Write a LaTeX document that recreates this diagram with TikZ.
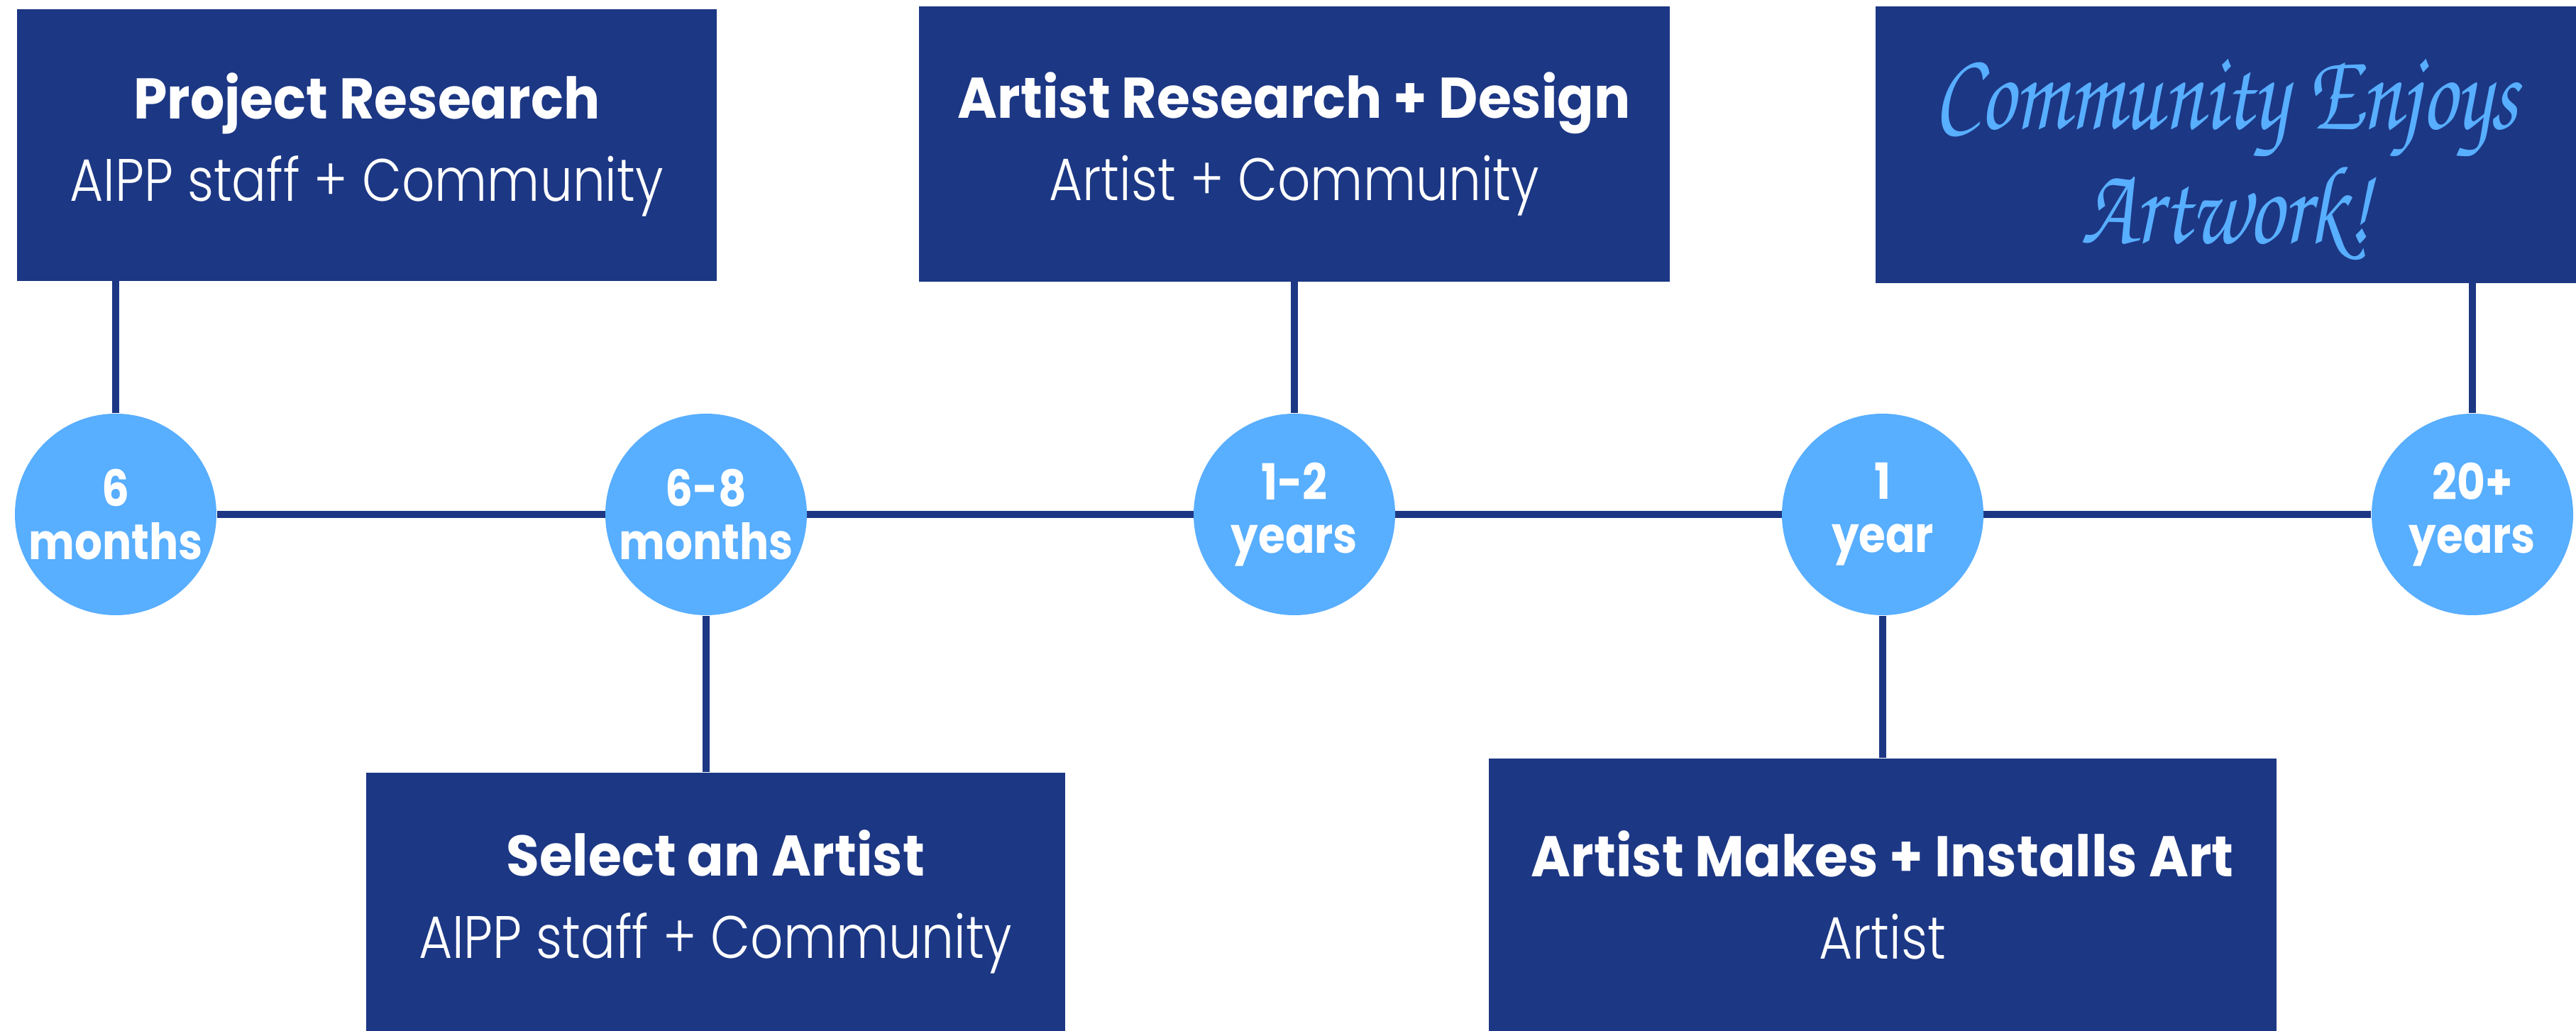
\documentclass[tikz,border=0pt]{standalone}
\usepackage{fontspec}
\setmainfont{Poppins}[
  UprightFont = * Light,
  BoldFont = * Bold,
  FakeStretch = 0.86
]
\newfontfamily\headfont{Poppins Bold}[FakeStretch = 0.94]
\newfontfamily\spanfont{Poppins Bold}[FakeStretch = 0.87]
\newfontfamily\brushfont{texgyrechorus-mediumitalic.otf}[FakeStretch = 0.78]
\usetikzlibrary{positioning}
\usetikzlibrary{backgrounds}
\definecolor{navy}{HTML}{1C3784}
\definecolor{sky}{HTML}{58AEFF}
\tikzset {
  % path style for the time axis
  axis/.style = {
    draw = navy,
    line width = 0.1cm
  },
  % path style from a stage to its circle
  link/.style = {
    axis
  }
}
\tikzset {
  % stage of the project
  stage/.style = {
    fill = navy,
    text = white,
    align = center,
    inner sep = 0,
    anchor = north west,
    font = \fontsize{24pt}{33pt}\selectfont
  },
  % duration of a stage
  span/.style = {
    circle,
    fill = sky,
    text = white,
    align = center,
    inner sep = 0,
    minimum size = 2.84cm,
    font = \spanfont\fontsize{20pt}{21.3pt}\selectfont
  }
}

\begin{document}
\begin{tikzpicture}
    \useasboundingbox (0, 0) rectangle (36.3, -14.53);

    \node[span] (six) at (1.63, -7.25) {6\\months};
    \node[span] (six-eight) at (9.95, -7.25) {6-8\\months};
    \node[span] (one-two) at (18.24, -7.25) {1-2\\years};
    \node[span] (one) at (26.53, -7.25) {1\\year};
    \node[span] (twenty) at (34.84, -7.25) {20+\\years};

    \node[stage, minimum width = 9.86cm, minimum height = 3.83cm]
      (research) at (0.23, -0.12)
      {{\headfont\fontsize{23pt}{33pt}\selectfont Project Research}\\AIPP staff + Community};

    \node[stage, minimum width = 9.85cm, minimum height = 3.65cm]
      (select) at (5.15, -10.88)
      {{\headfont\fontsize{23pt}{33pt}\selectfont Select an Artist}\\AIPP staff + Community};

    \node[stage, minimum width = 10.58cm, minimum height = 3.88cm]
      (design) at (12.94, -0.08)
      {{\headfont\fontsize{23pt}{33pt}\selectfont Artist Research + Design}\\Artist + Community};

    \node[stage, minimum width = 11.1cm, minimum height = 3.85cm]
      (install) at (20.97, -10.68)
      {{\headfont\fontsize{23pt}{33pt}\selectfont Artist Makes + Installs Art}\\Artist};

    \node[stage, minimum width = 9.88cm, minimum height = 3.9cm,
      text = sky, font = \brushfont\fontsize{45pt}{46pt}\selectfont]
      (enjoy) at (26.42, -0.08)
      {\rule{0pt}{40pt}Community Enjoys\\Artwork!};

    \begin{scope}[on background layer]
      \draw [axis] (six) -- (twenty);
    \end{scope}

    \draw [link] (six.north) -- (six.north |- research.south);
    \draw [link] (six-eight.south) -- (six-eight.south |- select.north);
    \draw [link] (one-two.north) -- (one-two.north |- design.south);
    \draw [link] (one.south) -- (one.south |- install.north);
    \draw [link] (twenty.north) -- (twenty.north |- enjoy.south);
  \end{tikzpicture}
\end{document}
